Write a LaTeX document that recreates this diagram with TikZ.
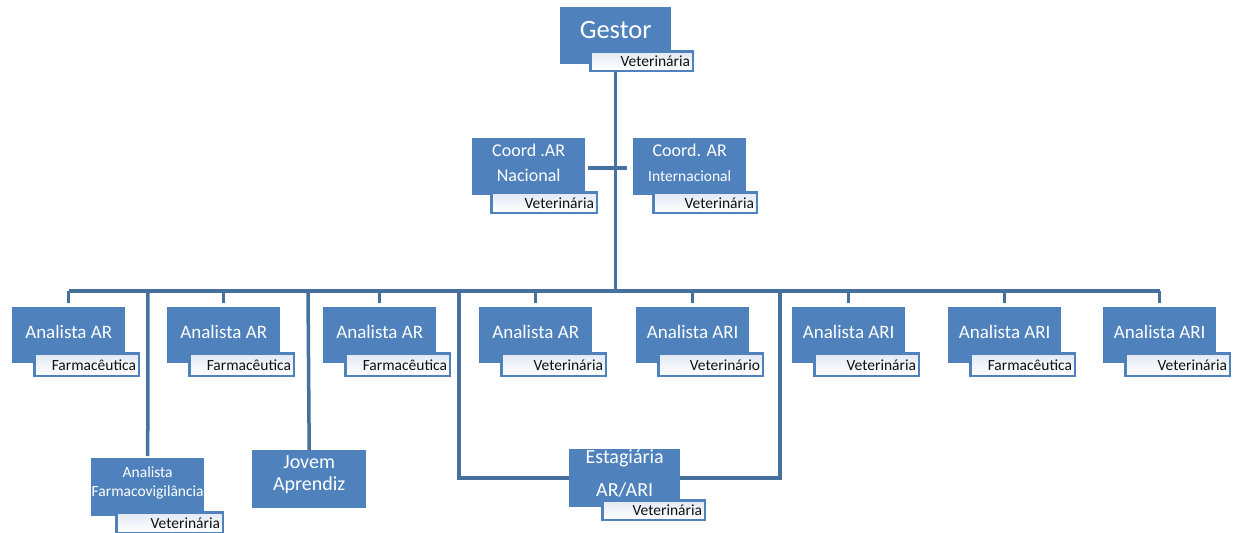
\documentclass[tikz,border=0pt]{standalone}
\usepackage{fontspec}
\setmainfont{Carlito}
\definecolor{boxblue}{HTML}{4F81BD}
\definecolor{linkblue}{HTML}{46719F}
\definecolor{tagtop}{HTML}{E2E9F3}
\definecolor{tagtext}{HTML}{111111}
\tikzset{
  mainbox/.style={fill=boxblue, draw=none, inner sep=0pt, anchor=north west},
  boxtext/.style={text=white, align=center, inner sep=0pt},
  rolebox/.style={draw=boxblue, line width=2.5pt, top color=tagtop, middle color=white, bottom color=white,
    anchor=north west, inner xsep=3pt, inner ysep=0pt, text width=#1, align=right,
    font=\fontsize{15.5}{17}\selectfont, text=tagtext},
  link/.style={draw=linkblue, line width=3.5pt},
}
\begin{document}
\begin{tikzpicture}[x=1pt,y=-1pt]
\useasboundingbox (0,0) rectangle (1235,533);
% bus coordinates
\coordinate (busL) at (68.5,291);
\coordinate (busR) at (1159.5,291);
\coordinate (crossY) at (0,168);

% ---------- boxes (positions) ----------
\node[mainbox, minimum width=111pt, minimum height=57pt] (g) at (560,7) {};
\node[mainbox, minimum width=113pt, minimum height=57pt] (c1) at (472,138) {};
\node[mainbox, minimum width=113pt, minimum height=57pt] (c2) at (633,138) {};
\foreach \i/\l in {1/12,2/167,3/323,4/479,5/636,6/792,7/948,8/1103}{
  \node[mainbox, minimum width=113pt, minimum height=56pt] (a\i) at (\l,307) {};
}
\node[mainbox, minimum width=113pt, minimum height=58pt] (fv) at (91,458) {};
\node[mainbox, minimum width=114pt, minimum height=58pt] (jv) at (252,450) {};
\node[mainbox, minimum width=111pt, minimum height=58pt] (es) at (569,449) {};

% ---------- connectors ----------
\coordinate (v1) at (148,291);
\coordinate (v2) at (308,291);
\coordinate (v3) at (459,291);
\coordinate (v4) at (780,291);
\path[link] (g.south) -- (g.south |- busL);
\path[link] (busL) -- (busR);
\path[link, shorten <=3pt, shorten >=6pt] (c1.east |- crossY) -- (c2.west |- crossY);
\foreach \i in {1,...,8}{
  \path[link, shorten >=4pt] (a\i.north |- busL) -- (a\i.north);
}
\path[link, shorten >=2pt] (v1) -- (fv.north);
\path[link] (v2) -- (jv.north);
\path[link] (v3) |- (es.west);
\path[link] (v4) |- (es.east);

% redraw boxes on top
\fill[boxblue] (g.north west) rectangle (g.south east);
\fill[boxblue] (c1.north west) rectangle (c1.south east);
\fill[boxblue] (c2.north west) rectangle (c2.south east);
\foreach \i in {1,...,8}{ \fill[boxblue] (a\i.north west) rectangle (a\i.south east); }
\fill[boxblue] (fv.north west) rectangle (fv.south east);
\fill[boxblue] (jv.north west) rectangle (jv.south east);
\fill[boxblue] (es.north west) rectangle (es.south east);

% ---------- box texts ----------
\node[boxtext, font=\fontsize{26.5}{28}\selectfont] (gt) at ([yshift=5.5pt]g.center) {Gestor};
\node[boxtext, font=\fontsize{18}{25}\selectfont] (c1t) at ([yshift=4pt]c1.center) {Coord .AR\\Nacional};
\node[boxtext, font=\fontsize{18}{25}\selectfont] (c2t) at ([yshift=4pt]c2.center) {Coord. AR\\{\fontsize{15.5}{25}\selectfont Internacional}};
\foreach \i/\t in {1/Analista AR,2/Analista AR,3/Analista AR,4/Analista AR,5/Analista ARI,6/Analista ARI,7/Analista ARI,8/Analista ARI}{
  \node[boxtext, font=\fontsize{19}{22}\selectfont] (a\i t) at ([yshift=3pt]a\i.center) {\t};
}
\node[boxtext, font=\fontsize{15.5}{19}\selectfont] (fvt) at ([yshift=4.5pt]fv.center) {Analista\\Farmacovigilância};
\node[boxtext, font=\fontsize{20}{22}\selectfont] (jvt) at ([yshift=5pt]jv.center) {Jovem\\Aprendiz};
\node[boxtext, font=\fontsize{20}{33}\selectfont] (est) at ([yshift=4.5pt]es.center) {Estagiária\\AR/ARI};

% ---------- role tags ----------
\node[rolebox=96.5pt, minimum height=19.5pt] (gr) at (589.25,50.25) {Veterinária};
\node[rolebox=99.5pt, minimum height=20.5pt] (c1r) at (490.25,191.25) {Veterinária};
\node[rolebox=97.5pt, minimum height=20.5pt] (c2r) at (652.25,191.25) {Veterinária};
\foreach \i/\l/\t in {1/12/Farmacêutica,2/167/Farmacêutica,3/323/Farmacêutica,4/479/Veterinária,5/636/Veterinário,6/792/Veterinária,7/948/Farmacêutica,8/1103/Veterinária}{
  \node[rolebox=98.5pt, minimum height=22.5pt] (a\i r) at (\l+21.25,352.25) {\t};
}
\node[rolebox=100.5pt, minimum height=20.5pt] (fvr) at (115.25,511.25) {Veterinária};
\node[rolebox=96.5pt, minimum height=19.5pt] (esr) at (601.25,499.25) {Veterinária};
\end{tikzpicture}
\end{document}
